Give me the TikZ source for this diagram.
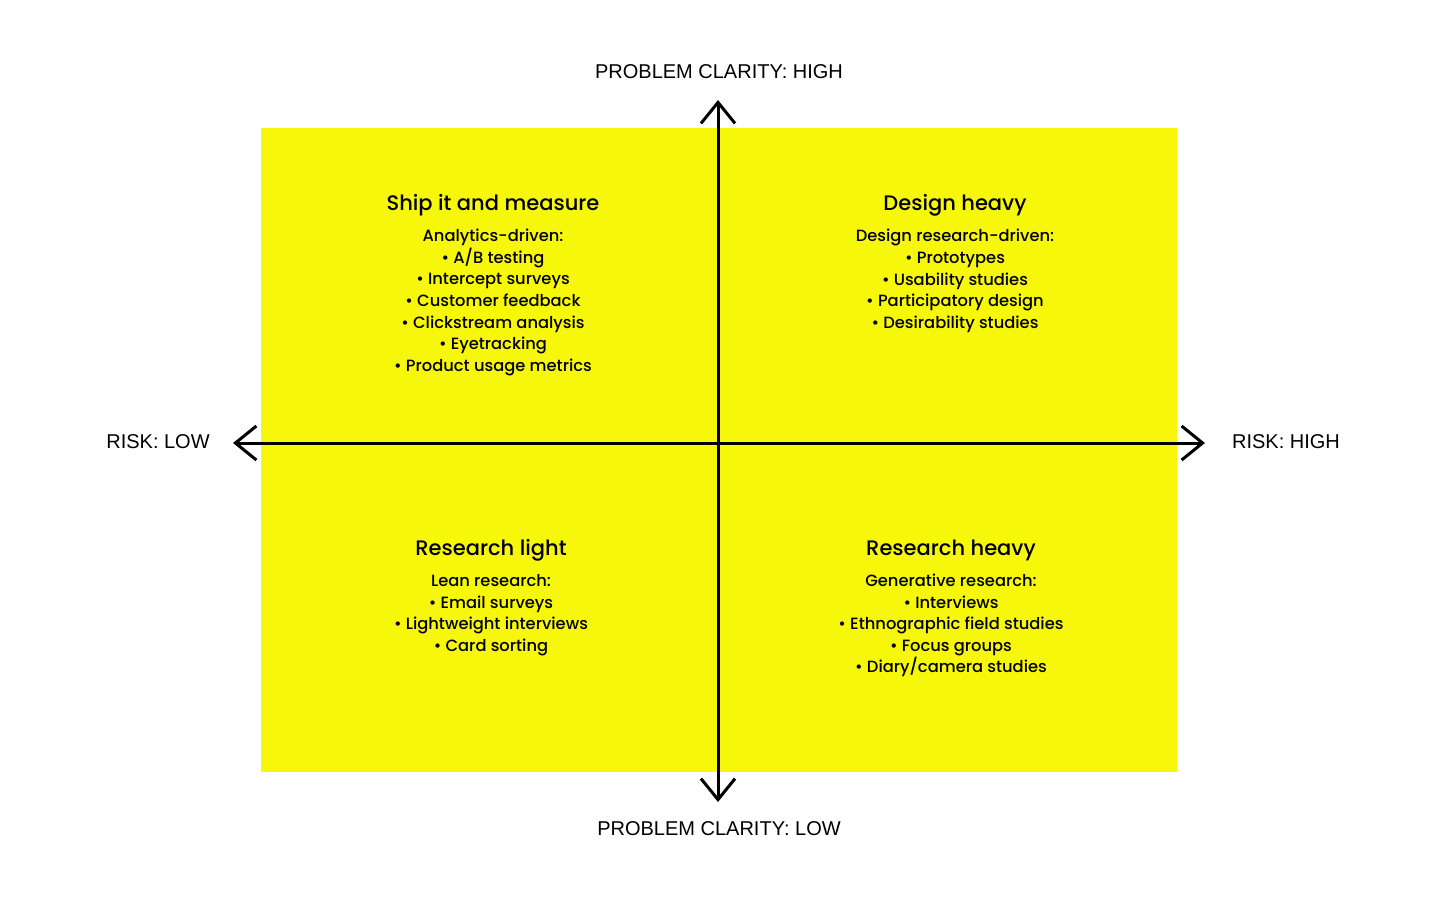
\documentclass[tikz,border=0pt]{standalone}
\usepackage{fontspec}
\setmainfont{Poppins}[UprightFont=* Medium]
\newfontfamily\axisfont{Liberation Sans}
\usetikzlibrary{arrows.meta, positioning}
\definecolor{quadyellow}{RGB}{247,247,10}

\begin{document}
\begin{tikzpicture}[x=1pt, y=-1pt, >={Straight Barb[length=21pt, width=34pt, line width=3pt]},
    quadtitle/.style={font=\fontsize{21}{25}\selectfont, inner sep=0pt},
    quadlist/.style={font=\fontsize{16.3}{21.6}\selectfont, align=center, inner sep=0pt},
    axislabel/.style={font=\axisfont\fontsize{20}{23}\selectfont, inner sep=0pt}]

    \useasboundingbox (0,0) rectangle (1440,900);
    \fill[quadyellow] (261,128) rectangle (1177,772);

    % axes
    \coordinate (top) at (718,100);
    \coordinate (bottom) at (718,802);
    \coordinate (left) at (233,443);
    \coordinate (right) at (1205,443);
    \draw[line width=3pt, <->] (bottom) -- (top);
    \draw[line width=3pt, <->] (left) -- (right);

    \node[axislabel] (clarhigh) at (719,72) {PROBLEM CLARITY: HIGH};
    \node[axislabel] (clarlow) at (719,829) {PROBLEM CLARITY: LOW};
    \node[axislabel] (risklow) at (158,442) {RISK: LOW};
    \node[axislabel] (riskhigh) at (1286,442) {RISK: HIGH};

    % quadrants
    \node[quadtitle] (ship) at (493,205) {Ship it and measure};
    \node[quadlist] (shiplist) [below=13pt of ship] {Analytics-driven:\\ \textbullet{} A/B testing\\ \textbullet{} Intercept surveys\\
        \textbullet{} Customer feedback\\ \textbullet{} Clickstream analysis\\ \textbullet{} Eyetracking\\ \textbullet{} Product usage metrics};

    \node[quadtitle] (design) at (955,205) {Design heavy};
    \node[quadlist] (designlist) [below=13pt of design] {Design research-driven:\\ \textbullet{} Prototypes\\ \textbullet{} Usability studies\\
        \textbullet{} Participatory design\\ \textbullet{} Desirability studies};

    \node[quadtitle] (light) at (491,550) {Research light};
    \node[quadlist] (lightlist) [below=13pt of light] {Lean research:\\ \textbullet{} Email surveys\\ \textbullet{} Lightweight interviews\\
        \textbullet{} Card sorting};

    \node[quadtitle] (heavy) at (951,550) {Research heavy};
    \node[quadlist] (heavylist) [below=13pt of heavy] {Generative research:\\ \textbullet{} Interviews\\ \textbullet{} Ethnographic field studies\\
        \textbullet{} Focus groups\\ \textbullet{} Diary/camera studies};

\end{tikzpicture}
\end{document}
